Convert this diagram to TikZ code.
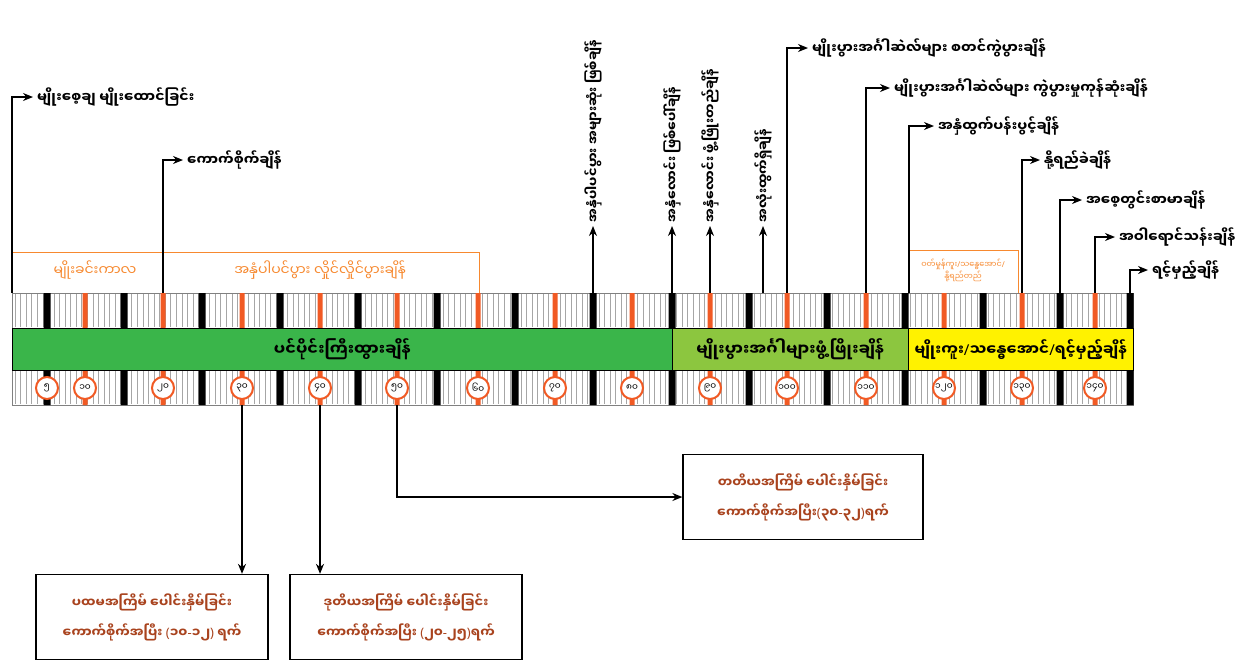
\documentclass[tikz,border=0pt]{standalone}
\usepackage{fontspec}
\usepackage{tikz}
\usetikzlibrary{arrows.meta,positioning}
\newfontfamily\mmfont[Script=Myanmar]{Noto Sans Myanmar UI}
\newfontfamily\latfont{Noto Sans}
\newcommand{\mmlp}{{\latfont(}}
\newcommand{\mmrp}{{\latfont)}}
\newcommand{\mmdash}{{\latfont-}}
\newcommand{\mmslash}{{\latfont/}}
\definecolor{vegegreen}{HTML}{3AB54A}
\definecolor{repgreen}{HTML}{8CC63F}
\definecolor{ripeyellow}{HTML}{FFF200}
\definecolor{markorange}{HTML}{F15A24}
\definecolor{brkorange}{HTML}{F7892F}
\definecolor{weedred}{HTML}{A9431E}

\begin{document}
\begin{tikzpicture}[x=1pt,y=-1pt,font=\mmfont,
    lbl/.style={anchor=west,inner sep=2pt,outer sep=2pt,font=\mmfont\bfseries\fontsize{14}{16}\selectfont},
    vlbl/.style={lbl,rotate=90,font=\mmfont\bfseries\fontsize{13}{15}\selectfont},
    brk/.style={draw=brkorange,line width=0.9pt},
    brklbl/.style={text=brkorange,inner sep=0pt,align=center,font=\mmfont\fontsize{14}{16}\selectfont},
    arr/.style={line width=1.4pt,-{Stealth[length=10pt,width=8pt]}},
    stagebox/.style={draw,line width=0.8pt,anchor=north west,minimum height=42pt,inner sep=0pt,font=\mmfont\bfseries\fontsize{16}{18}\selectfont},
    weedbox/.style={draw,line width=1.3pt,minimum height=85pt,align=center,text=weedred,font=\mmfont\bfseries\fontsize{13}{30}\selectfont},
    daynum/.style={circle,draw=markorange,line width=2pt,fill=white,minimum size=22pt,inner sep=0pt,font=\mmfont\fontsize{9}{9}\selectfont}]
\useasboundingbox (0,0) rectangle (1236,665);
\fill[white] (0,0) rectangle (1236,665);

\draw[fill=white,draw=gray] (12,293) rectangle (1133,328) (12,370) rectangle (1133,405);
\foreach \i in {0,...,200}
  \draw[gray!70,line width=0.6pt] ({15+\i*5.56},294) -- ++(0,33) ({15+\i*5.56},371) -- ++(0,33);
\foreach \d/\x in {5/47,15/124,25/202,35/280,45/358,55/437,65/515,75/593,85/672,95/749,105/827,115/905,125/983,135/1060,145/1130}{
  \fill[black] (\x-3.5,293) rectangle (\x+3.5,328) (\x-3.5,370) rectangle (\x+3.5,405);
  \coordinate (u\d) at (\x,293);
  \coordinate (l\d) at (\x,405);
}
\foreach \d/\x in {10/85,20/163,30/242,40/320,50/397,60/478,70/555,80/632,90/710,100/787,110/866,120/944,130/1022,140/1095}{
  \fill[markorange] (\x-2.5,293) rectangle (\x+2.5,328) (\x-2.5,370) rectangle (\x+2.5,405);
  \coordinate (u\d) at (\x,293);
  \coordinate (l\d) at (\x,405);
}
\coordinate (u0) at (12,293);
\coordinate (u97) at (763,293);
\coordinate (u115) at (909,293);

\node[stagebox,fill=vegegreen,minimum width=660pt] (veg) at (12,328) {ပင်ပိုင်းကြီးထွားချိန်};
\node[stagebox,fill=repgreen,minimum width=236pt] (rep) at (672,328) {မျိုးပွားအင်္ဂါများဖွံ့ဖြိုးချိန်};
\node[stagebox,fill=ripeyellow,minimum width=225pt] (ripe) at (908,328) {\fontsize{15}{17}\selectfont မျိုးကူး\mmslash သန္ဓေအောင်\mmslash ရင့်မှည့်ချိန်};

\foreach \d/\x/\t in {5/47/၅,10/85/၁၀,20/163/၂၀,30/242/၃၀,40/320/၄၀,50/397/၅၀,60/478/၆၀,70/555/၇၀,80/632/၈၀,90/710/၉၀,100/787/၁၀၀,110/866/၁၁၀,120/944/၁၂၀,130/1022/၁၃၀,140/1095/၁၄၀}
  \node[daynum] (n\d) at (\x,388) {\t};

\draw[brk] (12,293) -- (12,252) -- (479,252) -- (479,293);
\draw[brk] (909,293) -- (909,250) -- (1018,250) -- (1018,293);
\node[brklbl] (nursery) at (95,270) {မျိုးခင်းကာလ};
\node[brklbl] (tiller) at (320,270) {အနှံပါပင်ပွား လှိုင်လှိုင်ပွားချိန်};
\node[brklbl,font=\mmfont\fontsize{8}{12}\selectfont] (pollin) at (963,270) {ဝတ်မှုန်ကူး\mmslash သန္ဓေအောင်\mmslash\\နို့ရည်တည်};

\node[lbl] (sow) at (33,97) {မျိုးစေ့ချ မျိုးထောင်ခြင်း};
\node[lbl] (transplant) at (183,160) {ကောက်စိုက်ချိန်};
\node[vlbl] (tillmax) at (593,226) {အနှံပါပင်ပွား အများဆုံး ဖြစ်ချိန်};
\node[vlbl] (panicle) at (672,226) {အနှံလောင်း ဖြစ်ပေါ်ချိန်};
\node[vlbl] (panicledev) at (710,226) {အနှံလောင်း ဖွံ့ဖြိုးတည်ချိန်};
\node[vlbl] (boot) at (763,226) {အလုံးထွက်ရှိချိန်};
\node[lbl] (cellstart) at (808,48) {မျိုးပွားအင်္ဂါဆဲလ်များ စတင်ကွဲပွားချိန်};
\node[lbl] (cellend) at (890,88) {မျိုးပွားအင်္ဂါဆဲလ်များ ကွဲပွားမှုကုန်ဆုံးချိန်};
\node[lbl] (heading) at (934,126) {အနှံထွက်ပန်းပွင့်ချိန်};
\node[lbl] (milk) at (1040,160) {နို့ရည်ခဲချိန်};
\node[lbl] (dough) at (1082,200) {အစေ့တွင်းစာမာချိန်};
\node[lbl] (yellowripe) at (1115,237) {အဝါရောင်သန်းချိန်};
\node[lbl] (mature) at (1148,270) {ရင့်မှည့်ချိန်};

\draw[arr] (u0) |- (sow.west);
\draw[arr] (u20) |- (transplant.west);
\draw[arr] (u75) -- (tillmax.west);
\draw[arr] (u85) -- (panicle.west);
\draw[arr] (u90) -- (panicledev.west);
\draw[arr] (u97) -- (boot.west);
\draw[arr] (u100) |- (cellstart.west);
\draw[arr] (u110) |- (cellend.west);
\draw[arr] (u115) |- (heading.west);
\draw[arr] (u130) |- (milk.west);
\draw[arr] (u135) |- (dough.west);
\draw[arr] (u140) |- (yellowripe.west);
\draw[arr] (u145) |- (mature.west);

\node[weedbox,minimum width=232pt] (weed1) at (152,617) {ပထမအကြိမ် ပေါင်းနှိမ်ခြင်း\\ကောက်စိုက်အပြီး \mmlp ၁၀\mmdash ၁၂\mmrp\ ရက်};
\node[weedbox,minimum width=232pt] (weed2) at (406,617) {ဒုတိယအကြိမ် ပေါင်းနှိမ်ခြင်း\\ကောက်စိုက်အပြီး \mmlp ၂၀\mmdash ၂၅\mmrp ရက်};
\node[weedbox,minimum width=240pt] (weed3) at (803,497) {တတိယအကြိမ် ပေါင်းနှိမ်ခြင်း\\ကောက်စိုက်အပြီး\mmlp ၃၀\mmdash ၃၂\mmrp ရက်};

\draw[arr] (l30) -- (weed1.north -| l30);
\draw[arr] (l40) -- (weed2.north -| l40);
\draw[arr] (l50) |- (weed3.west);
\end{tikzpicture}
\end{document}
